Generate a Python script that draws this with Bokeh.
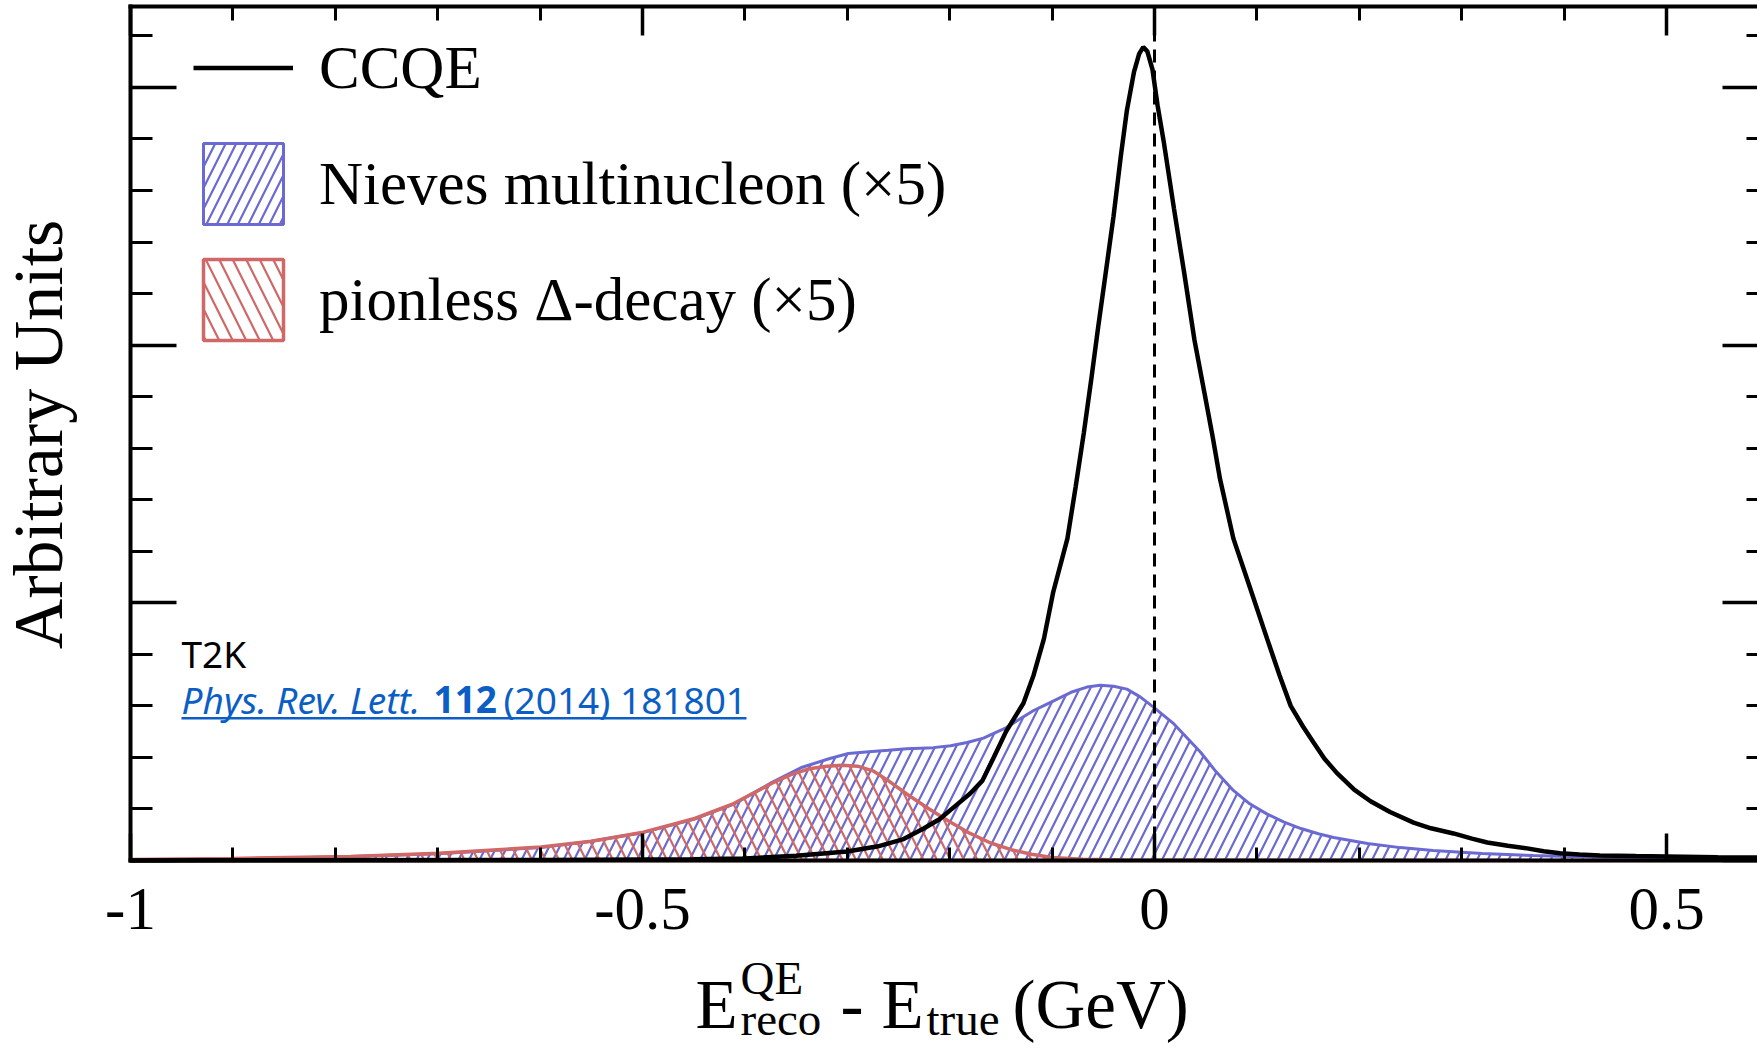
import math
from bokeh.plotting import figure
from bokeh.models import (Range1d, LinearAxis, FixedTicker, Legend, LegendItem,
                          Label, BoxAnnotation)
from bokeh.embed import file_html
from bokeh.resources import INLINE

# ---------------- data ----------------
ccqe_x = [-1.0, -0.6, -0.45, -0.4, -0.35, -0.3, -0.27, -0.245, -0.225, -0.21,
          -0.195, -0.18, -0.168, -0.157, -0.145, -0.135, -0.128, -0.118, -0.108, -0.099,
          -0.085, -0.077, -0.069, -0.062, -0.055, -0.048, -0.04, -0.033, -0.027, -0.02,
          -0.015, -0.011, -0.007, -0.002, 0.003, 0.009, 0.019, 0.029, 0.039, 0.049,
          0.057, 0.064, 0.077, 0.094, 0.11, 0.122, 0.133, 0.145, 0.155, 0.166,
          0.178, 0.195, 0.211, 0.23, 0.253, 0.27, 0.292, 0.31, 0.325, 0.345,
          0.364, 0.38, 0.396, 0.415, 0.435, 0.47, 0.5, 0.55, 0.6]
ccqe_y = [0.0, 0.002, 0.005, 0.008, 0.018, 0.035, 0.055, 0.083, 0.125, 0.16,
          0.21, 0.26, 0.31, 0.40, 0.50, 0.565, 0.61, 0.72, 0.86, 1.04,
          1.25, 1.45, 1.66, 1.86, 2.07, 2.27, 2.50, 2.73, 2.91, 3.06,
          3.13, 3.156, 3.14, 3.07, 2.93, 2.79, 2.53, 2.28, 2.02, 1.81,
          1.64, 1.48, 1.25, 1.05, 0.86, 0.72, 0.60, 0.52, 0.46, 0.395,
          0.34, 0.275, 0.23, 0.188, 0.147, 0.125, 0.105, 0.085, 0.07, 0.057,
          0.047, 0.036, 0.028, 0.023, 0.019, 0.017, 0.016, 0.013, 0.011]

nieves_x = [-1.0, -0.9, -0.8, -0.7, -0.6, -0.55, -0.5, -0.45, -0.41, -0.374,
            -0.344, -0.317, -0.299, -0.279, -0.26, -0.242, -0.216, -0.199, -0.183, -0.167,
            -0.157, -0.145, -0.13, -0.118, -0.105, -0.092, -0.08, -0.066, -0.053, -0.04,
            -0.027, -0.014, -0.001, 0.019, 0.045, 0.06, 0.077, 0.093, 0.11, 0.126,
            0.143, 0.16, 0.175, 0.208, 0.24, 0.272, 0.32, 0.37, 0.45, 0.6]
nieves_y = [0.003, 0.006, 0.014, 0.026, 0.050, 0.075, 0.108, 0.160, 0.220, 0.302,
            0.362, 0.396, 0.415, 0.422, 0.428, 0.434, 0.438, 0.445, 0.458, 0.475,
            0.493, 0.515, 0.553, 0.582, 0.607, 0.632, 0.655, 0.673, 0.680, 0.676,
            0.665, 0.635, 0.595, 0.530, 0.420, 0.345, 0.272, 0.220, 0.180, 0.150,
            0.124, 0.104, 0.089, 0.066, 0.050, 0.039, 0.027, 0.019, 0.011, 0.006]

delta_x = [-1.0, -0.9, -0.785, -0.699, -0.599, -0.55, -0.499, -0.449, -0.411, -0.374,
           -0.355, -0.337, -0.32, -0.305, -0.29, -0.275, -0.26, -0.242, -0.22, -0.2,
           -0.18, -0.16, -0.14, -0.12, -0.1, -0.07, -0.03, 0.0, 0.6]
delta_y = [0.004, 0.008, 0.016, 0.028, 0.052, 0.075, 0.110, 0.163, 0.221, 0.299,
           0.333, 0.356, 0.366, 0.370, 0.366, 0.348, 0.310, 0.258, 0.200, 0.150,
           0.105, 0.068, 0.042, 0.024, 0.012, 0.005, 0.002, 0.001, 0.0]

series_names = ["CCQE", "Nieves multinucleon (\u00d75)", "pionless \u0394-decay (\u00d75)"]

x_major_ticks = [-1, -0.5, 0, 0.5]
x_tick_labels = ["-1", "-0.5", "0", "0.5"]
x_minor_ticks = [-0.9, -0.8, -0.7, -0.6, -0.4, -0.3, -0.2, -0.1, 0.1, 0.2, 0.3, 0.4]
y_major_ticks = [0, 1, 2, 3]
y_minor_ticks = [0.2, 0.4, 0.6, 0.8, 1.2, 1.4, 1.6, 1.8, 2.2, 2.4, 2.6, 2.8, 3.2]
x_lo, x_hi = -1.0, 0.6        # extent of the drawn frame
y_lo, y_hi = 0.0, 3.314
x_ref = 0.0                   # dashed reference line E_reco = E_true

# ---------------- layout (page pixels) ----------------
W, H = 1757, 1048
AX_L, AX_B = 130.0, 860.0      # pixel of x=-1 and y=0
PX_X, PX_Y = 1024.0, 257.7     # px per unit

p = figure(width=W, height=H, output_backend="svg", toolbar_location=None,
           x_range=Range1d(x_lo - AX_L / PX_X, x_lo + (W - AX_L) / PX_X),
           y_range=Range1d((AX_B - H) / PX_Y, AX_B / PX_Y),
           x_axis_location=None, y_axis_location=None,
           min_border_left=0, min_border_right=0, min_border_top=0,
           min_border_bottom=0)
p.outline_line_color = None
p.xgrid.grid_line_color = None
p.ygrid.grid_line_color = None
p.background_fill_color = "white"
p.border_fill_color = "white"

BLUE = "#6a6ad2"
RED = "#d06868"
SERIF = "Liberation Serif"


def xd(px):
    return x_lo + (px - AX_L) / PX_X


def yd(py):
    return (AX_B - py) / PX_Y


def make_axis(ticks, minor, loc, bounds, tin, min_in, labels=None):
    ax = LinearAxis(ticker=FixedTicker(ticks=ticks, minor_ticks=minor),
                    fixed_location=loc, bounds=bounds)
    ax.axis_line_width = 4
    ax.axis_line_color = "black"
    ax.axis_line_cap = "square"
    ax.major_tick_in = tin
    ax.major_tick_out = 0
    ax.minor_tick_in = min_in
    ax.minor_tick_out = 0
    ax.major_tick_line_width = 3.5
    ax.minor_tick_line_width = 3
    if labels is None:
        ax.major_label_text_color = None
        ax.major_label_standoff = 0
    else:
        ax.major_label_overrides = {t: s for t, s in zip(ticks, labels)}
        ax.major_label_text_font = SERIF
        ax.major_label_text_font_size = "61px"
        ax.major_label_text_color = "black"
        ax.major_label_standoff = 28
    return ax


p.add_layout(make_axis(x_major_ticks, x_minor_ticks, y_lo, (x_lo, x_hi), 27, 13,
                       x_tick_labels), "below")
p.add_layout(make_axis(x_major_ticks, x_minor_ticks, y_hi, (x_lo, x_hi), 29, 14), "above")
p.add_layout(make_axis(y_major_ticks, y_minor_ticks, x_lo, (y_lo, y_hi), 46, 22), "left")
p.add_layout(make_axis(y_major_ticks, y_minor_ticks, x_hi, (y_lo, y_hi), 46, 22), "right")

# ---------------- glyphs ----------------
nv = p.patch(nieves_x + [nieves_x[-1], nieves_x[0]], nieves_y + [0, 0],
             fill_color=None, line_color=BLUE, line_width=3,
             hatch_pattern="/", hatch_color=BLUE, hatch_scale=21, hatch_weight=2.2)
dl = p.patch(delta_x + [delta_x[-1], delta_x[0]], delta_y + [0, 0],
             fill_color=None, line_color=RED, line_width=3.5,
             hatch_pattern="\\", hatch_color=RED, hatch_scale=27, hatch_weight=2.2)
p.segment(x0=[x_ref], y0=[y_lo], x1=[x_ref], y1=[y_hi], line_color="black",
          line_width=3, line_dash="13 8")
cq = p.line(ccqe_x, ccqe_y, line_color="black", line_width=4.5)

legend = Legend(items=[LegendItem(label=series_names[0], renderers=[cq]),
                       LegendItem(label=series_names[1], renderers=[nv]),
                       LegendItem(label=series_names[2], renderers=[dl])],
                location=(193, 698), glyph_width=100, glyph_height=101, spacing=15,
                padding=0, margin=0, label_standoff=26,
                label_text_font=SERIF, label_text_font_size="61px",
                label_text_color="black",
                border_line_color=None, background_fill_alpha=0)
p.add_layout(legend, "center")

# ---------------- texts ----------------
K = {SERIF: 0.3375, "Noto Sans": 0.388}   # half of (ascent - descent) in em


def lab(text, xf, base, size, font=SERIF, style="normal", color="black", angle=0.0, **kw):
    off = K[font] * size
    if angle:
        x, y = xd(xf - off), yd(base)
    else:
        x, y = xd(xf), yd(base - off)
    p.add_layout(Label(x=x, y=y, text=text, text_font=font,
                       text_font_size=f"{size}px", text_font_style=style,
                       text_color=color, text_baseline="alphabetic", angle=angle, **kw))


# x-axis title  E^QE_reco - E_true (GeV)
lab("E", 695, 1028, 69)
lab("QE", 740, 993, 47)
lab("reco", 740, 1034, 47)
lab("-", 840, 1028, 69)
lab("E", 881, 1028, 69)
lab("true", 926, 1034, 47)
lab("(GeV)", 1012, 1028, 69)

# y-axis title (baseline at x~62, centred on y=434)
lab("Arbitrary Units", 62, 434, 70, angle=math.pi / 2, text_align="center")

# reference note
LINK = "#0b5ec4"
lab("T2K", 181, 667, 37, font="Noto Sans")
lab("Phys. Rev. Lett.", 181, 713, 37, font="Noto Sans", style="italic", color=LINK)
lab("112", 433, 713, 37, font="Noto Sans", style="bold", color=LINK)
lab("(2014) 181801", 503, 713, 37, font="Noto Sans", color=LINK)
p.add_layout(BoxAnnotation(left=xd(181), right=xd(746), top=yd(716.5), bottom=yd(719),
                           fill_color=LINK, fill_alpha=1, line_color=None))

open("out.html", "w").write(file_html(p, INLINE))
